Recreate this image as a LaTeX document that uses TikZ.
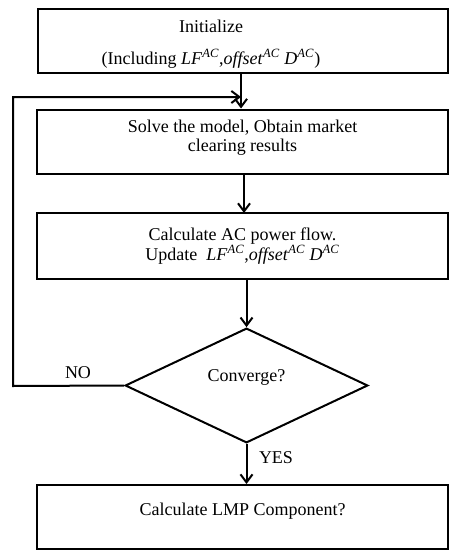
\documentclass[tikz,border=0pt]{standalone}
\usepackage{fontspec}
\setmainfont{Liberation Serif}
\usetikzlibrary{arrows.meta, shapes.geometric, positioning}
\newcommand{\acsym}[1]{\textit{#1}\textsuperscript{\textit{AC}}}

\begin{document}
\begin{tikzpicture}[x=0.75pt, y=-0.75pt, line width=1.5pt,
    every node/.style={font=\fontsize{13.5}{14}\selectfont, align=center},
    stepbox/.style={draw, rectangle, minimum width=308pt, minimum height=48pt, inner sep=0pt},
    flow/.style={-{Straight Barb[length=6pt, width=9pt]}}]

        \useasboundingbox (0,0) rectangle (466,560);

        % Boxes
        \node[stepbox] (init) at (243,41.5) {};
        \node (inittext) at (211,44) {Initialize\\[10pt](Including \acsym{LF},\acsym{offset} \acsym{D})};
        \node[stepbox] (solve) at (242.5,141.5) {Solve the model, Obtain market\\clearing results\\[-10pt]\strut};
        \node[stepbox, minimum height=49.5pt] (calc) at (242.5,246) {Calculate AC power flow.\\Update \ \acsym{LF},\acsym{offset} \acsym{D}};
        \node[stepbox] (lmp) at (242.5,517) {Calculate LMP Component?\\[-6pt]\strut};

        % Decision
        \node[draw, diamond, minimum width=182pt, minimum height=86pt, inner sep=0pt] (check) at (246.5,385.5) {Converge?\\[-4pt]\strut};

        % Loop back
        \coordinate (back) at (13,386);
        \coordinate (join) at (241,97);

        % Connectors
        \draw[flow] (init.south -| join) -- (join |- solve.north);
        \draw[flow] (solve.south -| 244,0) -- (244,213);
        \draw[flow] (calc.south -| check.north) -- (check.north);
        \draw[flow] (check.south) -- (check.south |- lmp.north);
        \draw[flow] (check.west) -- (back) |- (join);

        % Labels
        \node (no) at (78,373) {NO};
        \node (yes) at (276,458) {YES};

\end{tikzpicture}
\end{document}
